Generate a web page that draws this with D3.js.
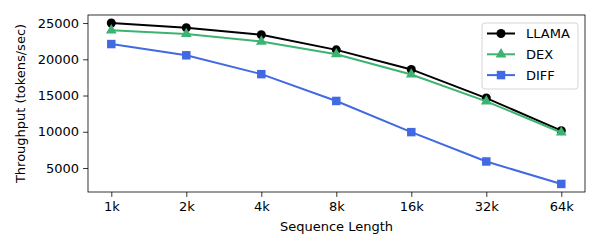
<!DOCTYPE html>
<html>
<head>
<meta charset="utf-8">
<script src="https://cdn.jsdelivr.net/npm/d3@7"></script>
<style>
  body { margin: 0; background: #fff; }
  svg { font-family: "DejaVu Sans", sans-serif; }
</style>
</head>
<body>
<svg id="chart" width="600" height="250"></svg>
<script>
const seqLengths = ["1k", "2k", "4k", "8k", "16k", "32k", "64k"];
const llama = [25000, 24350, 23380, 21300, 18600, 14650, 10150];
const dex = [24000, 23500, 22450, 20700, 17900, 14200, 9900];
const diff = [22100, 20550, 17950, 14250, 9950, 5900, 2800];
const yTicks = [5000, 10000, 15000, 20000, 25000];

const series = [
    { name: "LLAMA", values: llama, color: "#000000", marker: "circle" },
    { name: "DEX", values: dex, color: "#3cb371", marker: "triangle" },
    { name: "DIFF", values: diff, color: "#4169e1", marker: "square" }
];

const margin = { left: 88, right: 15, top: 15, bottom: 58 };
const W = 600, H = 250;
const svg = d3.select("#chart");

const x = d3.scalePoint().domain(seqLengths).range([111.3, 561.3]);
const allVals = [].concat(llama, dex, diff);
const lo = d3.min(allVals), hi = d3.max(allVals), pad = (hi - lo) * 0.05;
const y = d3.scaleLinear().domain([lo - pad, hi + pad]).range([H - margin.bottom, margin.top]);

const xAxis = svg.append("g").attr("transform", `translate(0,${H - margin.bottom})`)
    .call(d3.axisBottom(x).tickSize(4.9).tickPadding(4));
const yAxis = svg.append("g").attr("transform", `translate(${margin.left},0)`)
    .call(d3.axisLeft(y).tickValues(yTicks).tickFormat(d3.format("d")).tickSize(4.9).tickPadding(4));
[xAxis, yAxis].forEach(a => {
    a.select(".domain").remove();
    a.selectAll("line").attr("stroke", "#000").attr("stroke-width", 0.8);
    a.selectAll("text").attr("font-size", 13).attr("fill", "#000").attr("font-family", "DejaVu Sans");
});
xAxis.selectAll("text").attr("dy", "0.75em");

const line = d3.line().x((d, i) => x(seqLengths[i])).y(d => y(d));
const symbols = { circle: d3.symbolCircle, triangle: d3.symbolTriangle, square: d3.symbolSquare };
const sizes = { circle: 64, triangle: 50, square: 72 };

series.forEach(s => {
    svg.append("path").datum(s.values).attr("d", line)
        .attr("fill", "none").attr("stroke", s.color).attr("stroke-width", 2);
    svg.append("g").selectAll("path").data(s.values).join("path")
        .attr("transform", (d, i) => `translate(${x(seqLengths[i])},${y(d)})`)
        .attr("d", d3.symbol(symbols[s.marker], sizes[s.marker]))
        .attr("fill", s.color);
});

// frame
svg.append("rect").attr("x", margin.left).attr("y", margin.top)
    .attr("width", W - margin.left - margin.right).attr("height", H - margin.top - margin.bottom)
    .attr("fill", "none").attr("stroke", "#000").attr("stroke-width", 0.8);

// axis labels
svg.append("text").attr("x", (margin.left + W - margin.right) / 2).attr("y", 231)
    .attr("text-anchor", "middle").attr("font-size", 13).text("Sequence Length");
svg.append("text").attr("transform", `translate(25,${(margin.top + H - margin.bottom) / 2}) rotate(-90)`)
    .attr("text-anchor", "middle").attr("font-size", 13).text("Throughput (tokens/sec)");

// legend
const lg = svg.append("g").attr("transform", "translate(482,23)");
lg.append("rect").attr("width", 96).attr("height", 66).attr("rx", 3)
    .attr("fill", "#fff").attr("fill-opacity", 0.8).attr("stroke", "#ccc").attr("stroke-width", 0.8);
series.forEach((s, i) => {
    const g = lg.append("g").attr("transform", `translate(0,${10.5 + i * 20.8})`);
    g.append("line").attr("x1", 5).attr("x2", 33).attr("stroke", s.color).attr("stroke-width", 2);
    g.append("path").attr("transform", "translate(19,0)")
        .attr("d", d3.symbol(symbols[s.marker], sizes[s.marker])).attr("fill", s.color);
    g.append("text").attr("x", 44).attr("dy", "0.35em").attr("font-size", 13).text(s.name);
});
</script>
</body>
</html>
